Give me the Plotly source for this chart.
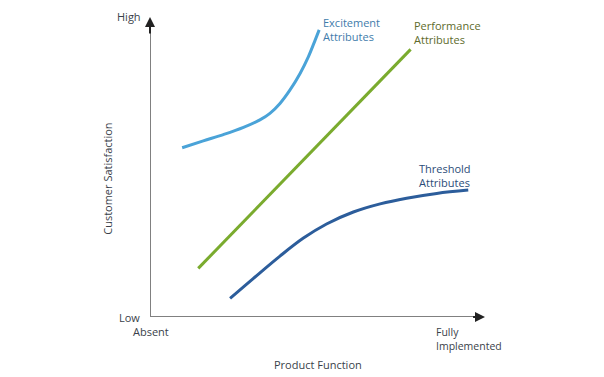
import plotly.graph_objects as go

# Kano model curves (x: product function 0..100, y: customer satisfaction 0..100)
exc_x = [9.6, 15.9, 21.9, 27.9, 32.8, 35.8, 38.8, 41.8, 44.8, 47.3, 49.3, 50.5]
exc_y = [56.4, 58.7, 60.8, 63.2, 65.7, 67.9, 71.2, 75.7, 81.2, 86.8, 92.3, 95.7]

perf_x = [14.4, 77.8]
perf_y = [16.2, 89.2]

thr_x = [23.9, 30.8, 38.8, 45.8, 52.7, 60.7, 68.7, 76.6, 85.6, 95.0]
thr_y = [6.2, 12.8, 20.3, 26.3, 31.0, 35.0, 37.7, 39.6, 41.2, 42.3]

FONT = "Open Sans"
C_EXC = "#4aa3d8"
C_PERF = "#7aab2e"
C_THR = "#2c5d9b"
TXT = "#3a3f4a"

fig = go.Figure()
fig.add_trace(go.Scatter(x=exc_x, y=exc_y, mode="lines", line=dict(color=C_EXC, width=3, shape="spline"), hoverinfo="skip"))
fig.add_trace(go.Scatter(x=perf_x, y=perf_y, mode="lines", line=dict(color=C_PERF, width=3), hoverinfo="skip"))
fig.add_trace(go.Scatter(x=thr_x, y=thr_y, mode="lines", line=dict(color=C_THR, width=3, shape="spline"), hoverinfo="skip"))

# Axes lines
fig.add_shape(type="line", x0=0, y0=0, x1=0, y1=97, xref="x", yref="y", line=dict(color="#808080", width=2))
fig.add_shape(type="line", x0=0, y0=0, x1=97, y1=0, xref="x", yref="y", line=dict(color="#808080", width=2))
# Arrowheads
fig.add_annotation(x=0, y=100, ax=0, ay=94, xref="x", yref="y", axref="x", ayref="y", text="",
                   showarrow=True, arrowhead=2, arrowsize=1, arrowwidth=2, arrowcolor="#222")
fig.add_annotation(x=100, y=0, ax=96, ay=0, xref="x", yref="y", axref="x", ayref="y", text="",
                   showarrow=True, arrowhead=2, arrowsize=1, arrowwidth=2, arrowcolor="#222")

def label(x, y, text, color, xanchor="left", yanchor="middle", size=11, angle=0):
    fig.add_annotation(x=x / 100, y=y / 100, xref="paper", yref="paper", text=text, showarrow=False,
                       xanchor=xanchor, yanchor=yanchor, align="left", textangle=angle,
                       font=dict(family=FONT, size=size, color=color))

label(51.0, 95.8, "Excitement<br>Attributes", "#3f7cab")
label(78.2, 94.8, "Performance<br>Attributes", "#5e6b2c")
label(79.7, 47.3, "Threshold<br>Attributes", "#2b4c78")
label(-2.0, 100.3, "High", TXT, xanchor="right")
label(-2.4, 0, "Low", TXT, xanchor="right")
label(-5.6, -4.7, "Absent", TXT)
label(84.8, -7.2, "Fully<br>Implemented", TXT, size=10.5)
label(50.1, -15.7, "Product Function", TXT, xanchor="center")
label(-12.9, 46, "Customer Satisfaction", TXT, xanchor="center", angle=-90)

fig.update_xaxes(range=[0, 100], visible=False)
fig.update_yaxes(range=[0, 100], visible=False)
# page body has an 8px margin; compensate so the plot area lands where the reference has it
fig.update_layout(width=596, height=369, margin=dict(l=142, r=119, t=9, b=60),
                  paper_bgcolor="white", plot_bgcolor="white", showlegend=False)

fig.write_html("out.html")
